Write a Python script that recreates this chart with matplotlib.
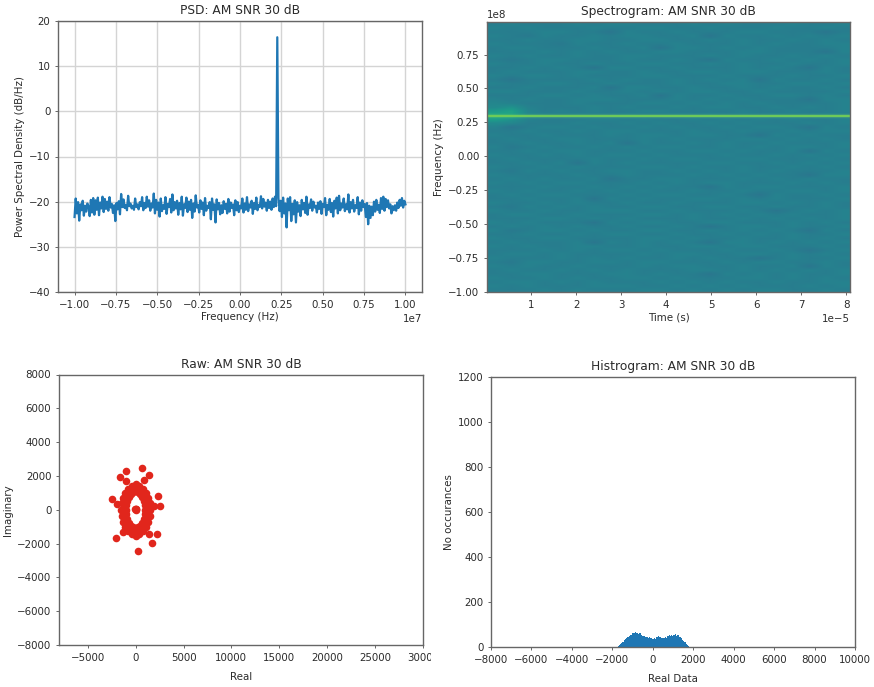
import numpy as np
import matplotlib
matplotlib.use("Agg")
import matplotlib.pyplot as plt
from matplotlib.patches import Rectangle

# PSD values in dB/Hz left to right
psd_left = [
    -23.4, -19.3, -22.6, -20.1, -24.2, -20.6, -21.9, -19.8, -23.1, -20.9, -22.2, -20.4, -21.1, -23.2, -19.6, -22.4,
    -19.2, -22.9, -19.7, -21.8, -19.1, -23.0, -20.2, -21.5, -18.9, -22.3, -19.4, -21.6, -20.0, -22.0, -19.0, -21.3,
    -20.5, -22.5, -20.8, -24.3, -20.3, -21.7, -19.9, -22.8, -18.3, -21.2, -19.5, -21.4, -20.7, -21.9, -18.7, -21.0,
    -20.4, -21.5, -20.9, -21.8, -19.3, -21.2, -20.6, -21.7, -20.1, -21.0, -19.0, -21.9, -20.3, -21.4, -18.9, -21.1,
    -19.7, -22.0, -20.4, -21.3, -18.2, -22.6, -19.6, -21.8, -20.2, -23.3, -19.3, -22.1, -20.8, -21.6, -19.0, -22.7,
    -20.5, -21.2, -19.4, -22.4, -18.4, -21.9, -20.1, -21.5, -19.8, -22.9, -20.3, -21.7, -18.9, -23.1, -20.6, -21.4,
    -19.1, -22.3, -20.0, -21.8, -19.6, -23.6, -20.4, -22.2, -18.6, -21.3, -20.7, -22.4, -19.7, -21.6, -20.2, -23.0,
    -19.2, -22.0, -20.9, -21.4, -20.1, -23.9, -19.3, -21.8, -20.6, -24.6, -19.5, -21.7, -20.3, -22.8, -20.8, -22.5,
    -19.9, -21.6, -20.5, -22.6, -19.4, -22.2, -20.2, -21.4, -20.6, -23.0, -19.7, -21.9, -20.1, -22.3, -20.9, -21.5,
    -19.3, -22.4, -20.4, -21.8, -19.0, -22.1, -20.6, -21.3, -19.8, -22.7, -20.3, -21.6, -19.1, -21.9, -20.7, -21.2,
    -18.8, -21.5, -19.4, -21.1, -20.2, -22.0, -19.6, -21.4, -20.0, -21.8, -19.3, -21.2, -18.9, -21.0,
]
psd_peak = [16.4]
psd_right = [
    -19.2, -22.1, -19.8, -23.4, -19.1, -22.6, -20.4, -25.7, -19.3, -21.9, -19.0, -24.3, -20.5, -22.8, -19.7,
    -24.6, -20.1, -22.2, -20.8, -23.2, -19.6, -21.7, -20.3, -22.5, -18.9, -22.9, -20.6, -21.4, -19.5, -22.0, -20.0, -21.3,
    -20.9, -22.4, -20.2, -21.6, -19.9, -22.7, -20.5, -21.2, -19.2, -23.0, -20.7, -21.8, -19.4, -22.3, -20.3, -23.3,
    -19.8, -21.5, -19.1, -22.6, -18.7, -21.9, -20.4, -21.3, -19.3, -22.1, -20.6, -21.7, -18.4, -22.4, -20.1, -21.5,
    -19.6, -22.2, -20.8, -21.4, -19.0, -22.8, -20.2, -22.0, -19.7, -21.2, -20.5, -23.4, -20.3, -25.0, -20.9, -23.6,
    -21.1, -23.0, -20.0, -22.2, -19.6, -21.8, -20.7, -22.5, -19.2, -21.6, -18.9, -22.0, -19.4, -21.2, -19.7, -21.5,
    -20.6, -22.6, -21.0, -21.9, -20.8, -22.0, -20.2, -21.4, -19.6, -20.9, -19.2, -21.3, -19.8, -20.6,
]
psd_ticks_x = [-1.0e7, -0.75e7, -0.5e7, -0.25e7, 0.0, 0.25e7, 0.5e7, 0.75e7, 1.0e7]
psd_ticks_y = [-40, -30, -20, -10, 0, 10, 20]

# spectrogram noise, one hex digit per cell, top row first
spec_rows = [
    "5655565665556565556556", "6565556556655655565565", "5556655365565556655535", "6546556566556365565656",
    "5565566556655656556565", "6555465565565556565566", "5665556556366565655556", "5556565655665556655536",
    "6565565566555656556565", "5456655565565365565656", "6556556556655656556556", "5565653665565556565365",
    "5655566556556656655565", "6566565556655565556556", "5355556565565656365565", "6556655655565566556656",
    "5565556366556556565565", "6655565565656655655556", "5556656556365565566565", "6565566655565656555366",
    "7655565556656565655556", "8a65556565565665565656", "ce75656556655556556556", "fe76565565565656565565",
    "da65556656556565656556", "8755565565655656555656", "6356656556565565665365", "5565565665556556556566",
    "6556555656656655365655", "5655665556565556656565", "5565565636556565565556", "6456556565665565656656",
    "5565665556556656556365", "6556565665655565565656", "5655556556566556655565", "5565636565555665565656",
    "6556565556656556556565", "5465655665565656565556", "6555565565556565655366", "5656556355665556565655",
    "6565665556565665556565", "5556556565655365665556", "6565565656556556556656", "5656655565665565365565",
    "5565563656556656565556", "6556565565565556656565", "5465656556655665565565", "6556556665565556535656",
    "5665565556656565656556", "5556656565556556565656", "6565553656655665556565", "5656565565565356656556",
    "6456656556655656565365", "5565565665565565656556", "6556655556656556556565", "5655563656565366565656",
    "6565566556556656655565", "5556565665655565565356", "5665655556566556656565", "6555656565565655356556",
    "5466556656655565665565", "6565565556566556556365", "5655656565556656565656", "5566555665655365656556",
    "6556565566565556656565", "5665656555656565565566", "6565556665565656555656", "5556565556656565665565",
]
spec_line_freq = [0.30e8, 0.30e8]
spec_line_time = [0.02e-5, 8.08e-5]
spec_ticks_x = [1e-5, 2e-5, 3e-5, 4e-5, 5e-5, 6e-5, 7e-5, 8e-5]
spec_ticks_y = [-1.0e8, -0.75e8, -0.5e8, -0.25e8, 0.0, 0.25e8, 0.5e8, 0.75e8]

# constellation: three rings, centre cluster, stray samples
ring_real = [
    1500, 1450, 1300, 1060, 750, 390, 0, -390, -750, -1060, -1300, -1450, -1500, -1450, -1300, -1060, -750, -390, 0, 390, 750, 1060, 1300, 1450,
    1010, 975, 875, 715, 505, 260, 0, -260, -505, -715, -875, -975, -1010, -975, -875, -715, -505, -260, 0, 260, 505, 715, 875, 975,
    1225, 1185, 1060, 865, 610, 315, 0, -315, -610, -865, -1060, -1185, -1225, -1185, -1060, -865, -610, -315, 0, 315, 610, 865, 1060, 1185,
]
ring_imag = [
    0, 370, 720, 1020, 1250, 1400, 1500, 1400, 1250, 1020, 720, 370, 0, -370, -720, -1020, -1250, -1420, -1560, -1420, -1260, -1020, -720, -370,
    0, 280, 540, 765, 935, 1045, 1080, 1045, 935, 765, 540, 280, 0, -280, -540, -765, -935, -1045, -1080, -1045, -935, -765, -540, -280,
    0, 325, 630, 890, 1090, 1215, 1260, 1215, 1090, 890, 630, 325, 0, -325, -630, -890, -1090, -1215, -1260, -1215, -1090, -890, -630, -325,
]
centre_real = [0, 60, -60, 0]
centre_imag = [40, 40, 40, -40]
stray_real = [-985, 670, -1585, 1370, 915, -985, -2500, -1970, 2320, 2530, 1900, -2040, -1340, 1370, 2220, 1690, 280]
stray_imag = [2320, 2455, 1920, 2040, 1760, 1680, 635, 355, 790, 220, 200, -1680, -1325, -1425, -1425, -1940, -2435]
raw_ticks_x = [-5000, 0, 5000, 10000, 15000, 20000, 25000, 30000]
raw_ticks_y = [-8000, -6000, -4000, -2000, 0, 2000, 4000, 6000, 8000]

# histogram of the real part, 60 bins from -1800 to 1800
hist_range = (-1800, 1800)
hist_counts = [2, 5, 9, 13, 18, 24, 29, 35, 40, 44, 50, 53, 55, 60, 62, 68, 63, 60, 56, 60, 55, 50, 48, 50, 45, 44, 41,
               43, 38, 37, 36, 38, 35, 44, 47, 43, 46, 40, 38, 42, 45, 40, 47, 52, 49, 55, 50, 53, 56, 50, 52, 54, 46, 40, 33,
               27, 20, 14, 8, 3]
hist_ticks_x = [-8000, -6000, -4000, -2000, 0, 2000, 4000, 6000, 8000, 10000]
hist_ticks_y = [0, 200, 400, 600, 800, 1000, 1200]

W, H = 874, 687
text_col = "#2b2b2b"
edge_col = "#666666"
blue = "#1f77b4"


def add_axes(fig, left, right, top, bottom):
    ax = fig.add_axes([left / W, 1 - bottom / H, (right - left) / W, (bottom - top) / H])
    for s in ax.spines.values():
        s.set_color(edge_col)
        s.set_linewidth(1.0)
    ax.tick_params(labelsize=7.4, length=2.5, width=0.7, colors=text_col, color=edge_col, pad=3)
    ax.xaxis.get_offset_text().set_fontsize(7.4)
    ax.yaxis.get_offset_text().set_fontsize(7.4)
    ax.xaxis.get_offset_text().set_color(text_col)
    ax.yaxis.get_offset_text().set_color(text_col)
    return ax


def labels(ax, title, xlabel, ylabel, xpad=2):
    ax.set_title(title, fontsize=8.8, color=text_col, pad=5)
    ax.set_xlabel(xlabel, fontsize=7.4, color=text_col, labelpad=xpad)
    ax.set_ylabel(ylabel, fontsize=7.4, color=text_col, labelpad=3)


fig = plt.figure(figsize=(W / 100, H / 100), dpi=100)

# PSD
ax = add_axes(fig, 58, 422, 21, 292)
psd_db = psd_left + psd_peak + psd_right
psd_freq = np.linspace(-1e7, 1e7, len(psd_db))
ax.plot(psd_freq, psd_db, color=blue, lw=1.6)
ax.set_xlim(-1.1e7, 1.1e7)
ax.set_ylim(-40, 20)
ax.set_xticks(psd_ticks_x)
ax.set_yticks(psd_ticks_y)
ax.grid(color="#d4d4d4", lw=1.0)
ax.set_axisbelow(True)
labels(ax, "PSD: AM SNR 30 dB", "Frequency (Hz)", "Power Spectral Density (dB/Hz)")

# spectrogram
ax = add_axes(fig, 487, 850, 22, 292)
spec = np.array([[int(c, 16) for c in row] for row in spec_rows], dtype=float)
ax.imshow(spec, cmap="viridis", vmin=-20, vmax=38.8, aspect="auto", interpolation="bilinear",
          extent=[0.02e-5, 8.08e-5, -1.0e8, 0.99e8])
ax.plot(spec_line_time, spec_line_freq, color="#6ecb63", lw=3.2, alpha=0.3)
ax.plot(spec_line_time, spec_line_freq, color="#74d055", lw=1.3)
ax.set_xlim(0.02e-5, 8.08e-5)
ax.set_ylim(-1.0e8, 0.99e8)
ax.set_xticks(spec_ticks_x)
ax.set_yticks(spec_ticks_y)
labels(ax, "Spectrogram: AM SNR 30 dB", "Time (s)", "Frequency (Hz)")

# raw IQ
ax = add_axes(fig, 59, 423, 374.5, 645)
raw_real = ring_real + centre_real + stray_real
raw_imag = ring_imag + centre_imag + stray_imag
ax.scatter(raw_real, raw_imag, s=30, color="#e1261c", linewidths=0)
ax.set_xlim(-8000, 30000)
ax.set_ylim(-8000, 8000)
ax.set_xticks(raw_ticks_x)
ax.set_yticks(raw_ticks_y)
labels(ax, "Raw: AM SNR 30 dB", "Real", "Imaginary", xpad=7)

# histogram
ax = add_axes(fig, 491, 855, 376.5, 647)
hist_edges = np.linspace(hist_range[0], hist_range[1], len(hist_counts) + 1)
ax.stairs(hist_counts, hist_edges, fill=True, color=blue)
ax.set_xlim(-8000, 10000)
ax.set_ylim(0, 1200)
ax.set_xticks(hist_ticks_x)
ax.set_yticks(hist_ticks_y)
labels(ax, "Histrogram: AM SNR 30 dB", "Real Data", "No occurances", xpad=7)

# the picture cuts off the last digit of the 30000 tick label
fig.add_artist(Rectangle((430.5 / W, 1 - 666 / H), 14 / W, 18 / H, transform=fig.transFigure,
                         facecolor="white", edgecolor="none", zorder=10))

fig.savefig("out.png", dpi=100)
